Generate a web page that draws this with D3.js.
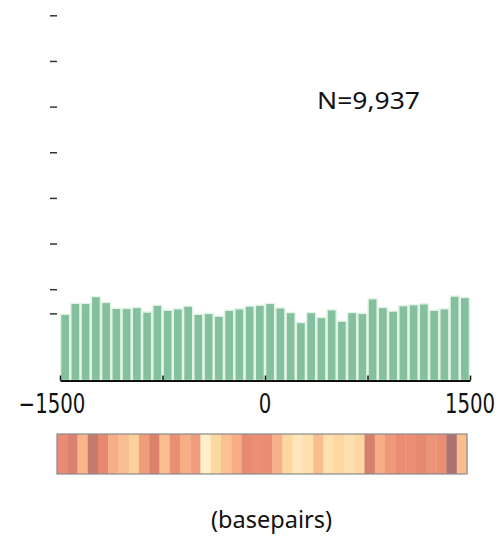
<!DOCTYPE html>
<html>
<head>
<meta charset="utf-8">
<script src="https://cdn.jsdelivr.net/npm/d3@7"></script>
<style>
  html, body { margin: 0; padding: 0; background: #fff; }
  svg { display: block; }
</style>
</head>
<body>
<svg id="chart" width="500" height="536"></svg>
<script>
// Positional profile: 40 bins of 75 bp spanning -1500..1500
const binStart = -1500;
const binWidth = 75;
const counts = [
  1.45, 1.69, 1.69, 1.84, 1.71, 1.58, 1.58, 1.60, 1.50, 1.65,
  1.54, 1.57, 1.63, 1.45, 1.47, 1.41, 1.54, 1.57, 1.63, 1.65,
  1.69, 1.59, 1.49, 1.27, 1.49, 1.38, 1.55, 1.30, 1.49, 1.47,
  1.79, 1.60, 1.52, 1.64, 1.66, 1.68, 1.54, 1.57, 1.85, 1.82
];
// Per-bin intensity shown in the strip below the histogram (0 = low, 1 = high)
const heat = [
  0.70, 0.78, 0.45, 0.86, 0.72, 0.50, 0.40, 0.30, 0.60, 0.78,
  0.40, 0.68, 0.50, 0.60, 0.05, 0.25, 0.38, 0.50, 0.72, 0.68,
  0.70, 0.48, 0.25, 0.12, 0.18, 0.40, 0.18, 0.25, 0.18, 0.25,
  0.80, 0.50, 0.62, 0.70, 0.68, 0.72, 0.65, 0.68, 0.95, 0.40
];
const yTicks = [1.47, 2, 3, 4, 5, 6, 7, 8];
const xTicks = [-1500, -750, 0, 750, 1500];
const xTickLabels = ["\u22121500", "", "0", "", "1500"];
const countLabel = "N=9,937";
const unitLabel = "(basepairs)";

const svg = d3.select("#chart");

const x = d3.scaleLinear().domain([-1500, 1500]).range([60, 470]);
const y = d3.scaleLinear().domain([0, 8]).range([380.5, 15.3]);
// The intensity strip sits slightly left of the histogram
const xs = d3.scaleLinear().domain([-1500, 1500]).range([57, 467]);

const bins = counts.map((v, i) => ({ x0: binStart + i * binWidth, x1: binStart + (i + 1) * binWidth, v }));

// Bars
svg.append("g").selectAll("rect")
  .data(bins)
  .join("rect")
  .attr("x", d => x(d.x0) + 0.6)
  .attr("width", d => x(d.x1) - x(d.x0) - 1.2)
  .attr("y", d => y(d.v))
  .attr("height", d => y(0) - y(d.v))
  .attr("fill", "#84c09e")
  .attr("stroke", "#e2f4e6")
  .attr("stroke-width", 1.4);

// Y ticks (unlabelled)
const yAxis = d3.axisLeft(y).tickValues(yTicks).tickSize(7).tickFormat("");
svg.append("g")
  .attr("transform", "translate(57,0)")
  .call(yAxis)
  .call(g => g.select(".domain").remove())
  .call(g => g.selectAll(".tick line").attr("stroke", "#333").attr("stroke-width", 1.5));

// X axis with inward ticks
const xAxis = d3.axisBottom(x).tickValues(xTicks).tickSize(-5).tickSizeOuter(0).tickFormat("");
svg.append("g")
  .attr("transform", `translate(0,${y(0)})`)
  .call(xAxis)
  .call(g => g.select(".domain").attr("stroke", "#111").attr("stroke-width", 2.2))
  .call(g => g.selectAll(".tick line").attr("stroke", "#111").attr("stroke-width", 1.5));

// X tick labels
svg.append("g").selectAll("text")
  .data(xTicks.map((t, i) => ({ t, label: xTickLabels[i] })).filter(d => d.label))
  .join("text")
  .attr("transform", d => `translate(${x(d.t) + (d.t < 0 ? -8 : 0)},413) scale(0.76,1)`)
  .attr("text-anchor", "middle")
  .attr("font-family", "DejaVu Sans")
  .attr("font-size", 26)
  .attr("fill", "#111")
  .text(d => d.label);

// Intensity strip
const heatColor = d3.scaleLinear()
  .domain([0, 0.25, 0.5, 0.75, 1])
  .range(["#fff4d2", "#fdd7a0", "#f7ad85", "#e5846e", "#9c6d72"]);

const strip = svg.append("g");
strip.selectAll("rect")
  .data(bins.map((b, i) => ({ ...b, h: heat[i] })))
  .join("rect")
  .attr("x", d => xs(d.x0))
  .attr("width", d => xs(d.x1) - xs(d.x0) + 0.3)
  .attr("y", 434)
  .attr("height", 40)
  .attr("fill", d => heatColor(d.h));
strip.append("rect")
  .attr("x", xs(-1500))
  .attr("y", 434)
  .attr("width", xs(1500) - xs(-1500))
  .attr("height", 40)
  .attr("fill", "none")
  .attr("stroke", "#8a8a8a")
  .attr("stroke-width", 1.2);

// Labels
svg.append("text")
  .attr("x", 317).attr("y", 109)
  .attr("font-family", "Noto Sans")
  .attr("font-size", 24)
  .attr("textLength", 103)
  .attr("lengthAdjust", "spacingAndGlyphs")
  .attr("fill", "#111")
  .text(countLabel);

svg.append("text")
  .attr("x", 211).attr("y", 528)
  .attr("font-family", "Noto Sans")
  .attr("font-size", 24)
  .attr("textLength", 121)
  .attr("lengthAdjust", "spacingAndGlyphs")
  .attr("fill", "#111")
  .text(unitLabel);
</script>
</body>
</html>
